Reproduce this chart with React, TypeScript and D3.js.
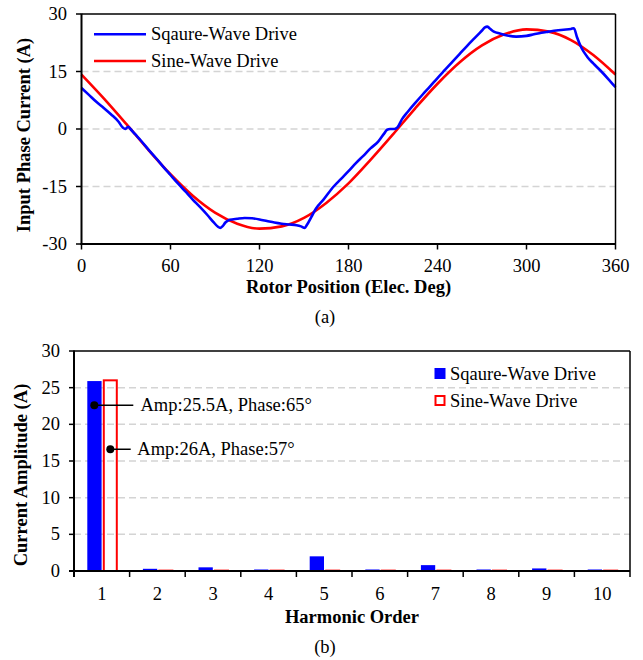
import React from "react";
import * as d3 from "d3";

// ---------- Data (a) ----------
const squareAngle = [0, 5, 10, 15, 20, 25, 28, 29.5, 30.5, 31.5, 33, 36, 40, 45, 50, 55, 60, 65, 70, 75, 80, 85, 89, 92, 93.5, 95, 97, 100, 105, 110, 115, 120, 125, 130, 135, 140, 145, 148, 150.5, 152, 155, 158, 163, 170, 175, 180, 185, 190, 195, 200, 204, 206, 208, 211, 213, 216, 220, 225, 230, 235, 240, 245, 250, 255, 260, 265, 270, 272, 273.5, 275, 278, 282, 287, 293, 300, 305, 310, 315, 320, 325, 330, 332, 334, 337, 341, 345, 350, 355, 360];
const squareCurrent = [10.7, 8.9, 7.1, 5.5, 3.8, 1.9, 0.3, 0, 0.3, 0.6, 0, -1.3, -3.0, -5.3, -7.5, -9.8, -12.0, -14.2, -16.3, -18.4, -20.4, -22.5, -24.3, -25.5, -25.8, -25.4, -24.4, -23.7, -23.4, -23.2, -23.3, -23.6, -24.0, -24.4, -24.7, -24.9, -25.1, -25.4, -25.8, -25.0, -22.9, -20.8, -18.5, -15.0, -13.0, -11.0, -8.9, -7.0, -5.0, -3.3, -1.2, -0.2, 0, 0, 0.4, 2.5, 4.5, 6.8, 9.0, 11.1, 13.3, 15.4, 17.5, 19.6, 21.7, 23.7, 25.7, 26.5, 26.7, 26.3, 25.4, 24.9, 24.4, 24.1, 24.3, 24.7, 25.1, 25.4, 25.7, 25.9, 26.1, 26.3, 24.0, 21.2, 18.8, 17.1, 15.2, 13.1, 10.9];
const sineAngle = [0, 15, 30, 45, 60, 75, 90, 105, 120, 135, 150, 165, 180, 195, 210, 225, 240, 255, 270, 285, 300, 315, 330, 345, 360];
const sineCurrent = [14.2, 8.0, 1.4, -5.4, -11.8, -17.4, -21.8, -24.7, -26.0, -25.4, -23.2, -19.3, -14.2, -8.0, -1.4, 5.4, 11.8, 17.4, 21.8, 24.7, 26.0, 25.4, 23.2, 19.3, 14.2];
const xTicksA = [0, 60, 120, 180, 240, 300, 360];
const yTicksA = [-30, -15, 0, 15, 30];
const yGridA = [-15, 0, 15];

// ---------- Data (b) ----------
const harmonics = ["1", "2", "3", "4", "5", "6", "7", "8", "9", "10"];
const squareAmp = [25.9, 0.3, 0.5, 0.15, 2.0, 0.1, 0.8, 0.1, 0.35, 0.1];
const sineAmp = [26.0, 0.05, 0.05, 0.05, 0.05, 0.05, 0.05, 0.05, 0.05, 0.05];
const yTicksB = [0, 5, 10, 15, 20, 25, 30];
const yGridB = [5, 10, 15, 20, 25];
const annotText = ["Amp:25.5A, Phase:65°", "Amp:26A, Phase:57°"];
const annotY = [22.6, 16.6];

const BLUE = "#0000ff";
const RED = "#ff0000";
const GRID = "#d4d4d4";
const FONT = "'Liberation Serif', 'Times New Roman', serif";
const FS = 18.5;

export default function App() {
  // Chart (a)
  const ax0 = 81.5, ax1 = 615.5, ay0 = 244, ay1 = 14;
  const xA = d3.scaleLinear().domain([0, 360]).range([ax0, ax1]);
  const yA = d3.scaleLinear().domain([-30, 30]).range([ay0, ay1]);
  const line = d3
    .line<[number, number]>()
    .x((d) => xA(d[0]))
    .y((d) => yA(d[1]))
    .curve(d3.curveMonotoneX);
  const sqPath = line(squareAngle.map((a, i) => [a, squareCurrent[i]]) as [number, number][]) || "";
  const sinePath = line(sineAngle.map((a, i) => [a, sineCurrent[i]]) as [number, number][]) || "";

  // Chart (b)
  const bx0 = 74, bx1 = 630, by0 = 571, by1 = 351;
  const xB = d3.scaleBand().domain(harmonics).range([bx0, bx1]);
  const yB = d3.scaleLinear().domain([0, 30]).range([by0, by1]);
  const bw = xB.bandwidth();

  return (
    <svg width={643} height={660} style={{ position: "absolute", left: 0, top: 0, fontFamily: FONT }}>
      <rect x={0} y={0} width={643} height={660} fill="#fff" />
      {/* ===== Chart (a) ===== */}
      {yGridA.map((v) => (
        <line key={v} x1={ax0} x2={ax1} y1={yA(v)} y2={yA(v)} stroke={GRID} strokeWidth={1.5} strokeDasharray="7,4" />
      ))}
      <path d={sinePath} fill="none" stroke={RED} strokeWidth={2.6} />
      <path d={sqPath} fill="none" stroke={BLUE} strokeWidth={2.6} />
      {/* frame */}
      <line x1={ax0} x2={ax1} y1={ay1} y2={ay1} stroke="#000" strokeWidth={1.5} />
      <line x1={ax1} x2={ax1} y1={ay1} y2={ay0} stroke="#000" strokeWidth={1.5} />
      <line x1={ax0} x2={ax0} y1={ay1 - 0.5} y2={ay0 + 1} stroke="#000" strokeWidth={2} />
      <line x1={ax0 - 1} x2={ax1 + 0.5} y1={ay0} y2={ay0} stroke="#000" strokeWidth={2} />
      {yTicksA.map((v) => (
        <g key={v}>
          <line x1={ax0 - 5.5} x2={ax0} y1={yA(v)} y2={yA(v)} stroke="#000" strokeWidth={1.5} />
          <text x={67} y={yA(v)} textAnchor="end" dominantBaseline="central" fontSize={FS}>
            {v}
          </text>
        </g>
      ))}
      {xTicksA.map((v) => (
        <g key={v}>
          <line x1={xA(v)} x2={xA(v)} y1={ay0} y2={ay0 + 5.5} stroke="#000" strokeWidth={1.5} />
          <text x={xA(v)} y={272} textAnchor="middle" fontSize={FS}>
            {v}
          </text>
        </g>
      ))}
      <text x={(ax0 + ax1) / 2} y={293} textAnchor="middle" fontSize={FS} fontWeight="bold">
        Rotor Position (Elec. Deg)
      </text>
      <text transform={`translate(30,135) rotate(-90)`} textAnchor="middle" fontSize={FS} fontWeight="bold">
        Input Phase Current (A)
      </text>
      <text x={325} y={323} textAnchor="middle" fontSize={FS}>
        (a)
      </text>
      {/* legend (a) */}
      <line x1={94} x2={146} y1={34.3} y2={34.3} stroke={BLUE} strokeWidth={2.6} />
      <text x={151} y={34.3} dominantBaseline="central" fontSize={FS}>
        Sqaure-Wave Drive
      </text>
      <line x1={94} x2={146} y1={61} y2={61} stroke={RED} strokeWidth={2.6} />
      <text x={151} y={61} dominantBaseline="central" fontSize={FS}>
        Sine-Wave Drive
      </text>

      {/* ===== Chart (b) ===== */}
      {yGridB.map((v) => (
        <line key={v} x1={bx0} x2={bx1} y1={yB(v)} y2={yB(v)} stroke={GRID} strokeWidth={1.5} strokeDasharray="7,4" />
      ))}
      {harmonics.map((h, i) => {
        const c = (xB(h) || 0) + bw / 2;
        const hs = Math.max(by0 - yB(squareAmp[i]), 1.5);
        const hr = by0 - yB(sineAmp[i]);
        return (
          <g key={h}>
            <rect x={c - 14.5} y={by0 - hs} width={14.3} height={hs} fill={BLUE} />
            <rect x={c + 2} y={by0 - hr} width={13} height={hr} fill="none" stroke={RED} strokeWidth={2} />
          </g>
        );
      })}
      {/* frame */}
      <line x1={bx0} x2={bx1} y1={by1} y2={by1} stroke="#000" strokeWidth={1.5} />
      <line x1={bx1} x2={bx1} y1={by1} y2={by0 + 6} stroke="#000" strokeWidth={1.5} />
      <line x1={bx0} x2={bx0} y1={by1 - 0.5} y2={by0 + 6} stroke="#000" strokeWidth={2} />
      <line x1={bx0 - 5} x2={bx1} y1={by0} y2={by0} stroke="#000" strokeWidth={2} />
      {yTicksB.map((v) => (
        <g key={v}>
          <line x1={bx0 - 5} x2={bx0} y1={yB(v)} y2={yB(v)} stroke="#000" strokeWidth={1.5} />
          <text x={60} y={yB(v)} textAnchor="end" dominantBaseline="central" fontSize={FS}>
            {v}
          </text>
        </g>
      ))}
      {harmonics.map((h, i) => (
        <g key={h}>
          {i > 0 && (
            <line x1={xB(h) || 0} x2={xB(h) || 0} y1={by0} y2={by0 + 6} stroke="#000" strokeWidth={1.5} />
          )}
          <text x={(xB(h) || 0) + bw / 2} y={600} textAnchor="middle" fontSize={FS}>
            {h}
          </text>
        </g>
      ))}
      <text x={(bx0 + bx1) / 2} y={623} textAnchor="middle" fontSize={FS} fontWeight="bold">
        Harmonic Order
      </text>
      <text transform={`translate(27,475) rotate(-90)`} textAnchor="middle" fontSize={FS} fontWeight="bold">
        Current Amplitude (A)
      </text>
      <text x={325} y={653} textAnchor="middle" fontSize={FS}>
        (b)
      </text>
      {/* annotations */}
      {annotText.map((t, i) => {
        const c = (xB(harmonics[0]) || 0) + bw / 2;
        const dx = i === 0 ? c - 7.5 : c + 8.5;
        const lx = i === 0 ? 133.3 : 130.7;
        const tx = i === 0 ? 140.5 : 137.3;
        const yy = yB(annotY[i]);
        return (
          <g key={t}>
            <line x1={dx} x2={lx} y1={yy} y2={yy} stroke="#000" strokeWidth={1.5} />
            <circle cx={dx} cy={yy} r={4} fill="#000" />
            <text x={tx} y={yy} dominantBaseline="central" fontSize={FS}>
              {t}
            </text>
          </g>
        );
      })}
      {/* legend (b) */}
      <rect x={434.5} y={368} width={11} height={11} fill={BLUE} />
      <text x={450} y={373.5} dominantBaseline="central" fontSize={FS}>
        Sqaure-Wave Drive
      </text>
      <rect x={435.5} y={396} width={9} height={9} fill="none" stroke={RED} strokeWidth={2} />
      <text x={450} y={400.5} dominantBaseline="central" fontSize={FS}>
        Sine-Wave Drive
      </text>
    </svg>
  );
}
